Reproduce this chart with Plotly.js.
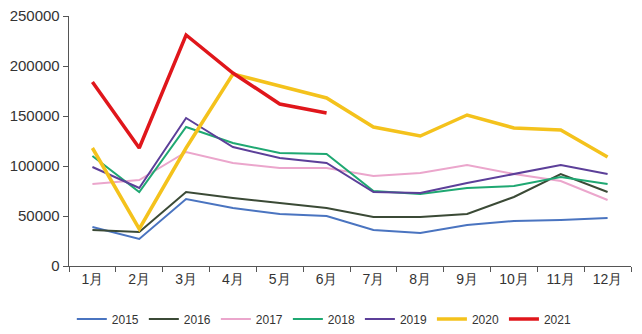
<!DOCTYPE html>
<html><head><meta charset="utf-8">
<script src="https://cdn.plot.ly/plotly-3.0.1.min.js"></script>
<style>html,body{margin:0;padding:0;background:#fff}#chart{width:642px;height:334px}</style>
</head><body><div id="chart"></div>
<script>
const months = ["1月","2月","3月","4月","5月","6月","7月","8月","9月","10月","11月","12月"];
const years = ["2015","2016","2017","2018","2019","2020","2021"];
const s2015 = [39000,27000,67000,58000,52000,50000,36000,33000,41000,45000,46000,48000];
const s2016 = [36000,34000,74000,68000,63000,58000,49000,49000,52000,69000,92000,74000];
const s2017 = [82000,86000,114000,103000,98000,98000,90000,93000,101000,92000,85000,66000];
const s2018 = [110000,74000,139000,123000,113000,112000,75000,72000,78000,80000,89000,82000];
const s2019 = [99000,78000,148000,119000,108000,103000,74000,73000,83000,92000,101000,92000];
const s2020 = [118000,37000,118000,192000,180000,168000,139000,130000,151000,138000,136000,109000];
const s2021 = [184000,118000,231000,193000,162000,153000];
const series = [s2015,s2016,s2017,s2018,s2019,s2020,s2021];
const colors = ["#4a74c0","#3b4a36","#eba6cc","#1fa872","#5c3f99","#f4c21c","#e0161b"];
const widths = [2,2,2,2,2,3.5,3.5];

const traces = series.map((v,i)=>({
  type:"scatter", mode:"lines", name:years[i],
  x: months.slice(0,v.length), y:v,
  line:{color:colors[i], width:widths[i]}
}));

const layout = {
  width:642, height:334,
  margin:{l:69, r:11, t:16, b:68, autoexpand:false},
  paper_bgcolor:"#fff", plot_bgcolor:"#fff",
  font:{family:"Liberation Sans, Arial, sans-serif", color:"#333"},
  showlegend:true,
  legend:{orientation:"h", x:0.005, xanchor:"left", y:-0.212, yanchor:"middle",
          font:{size:12, color:"#333"}, itemwidth:30, tracegroupgap:0},
  xaxis:{type:"category", range:[-0.5,11.5], showline:true, linecolor:"#555", linewidth:1.3,
         ticks:"outside", tickson:"boundaries", ticklen:5, tickcolor:"#555",
         showgrid:false, zeroline:false, tickfont:{size:14, color:"#333"}},
  yaxis:{range:[0,250000], dtick:50000, showline:true, linecolor:"#555", linewidth:1.3,
         ticks:"outside", ticklen:5, tickcolor:"#555", showgrid:false, zeroline:false,
         tickformat:"d", tickfont:{size:15, color:"#333"}}
};
Plotly.newPlot("chart", traces, layout, {displayModeBar:false, staticPlot:true});
</script></body></html>
